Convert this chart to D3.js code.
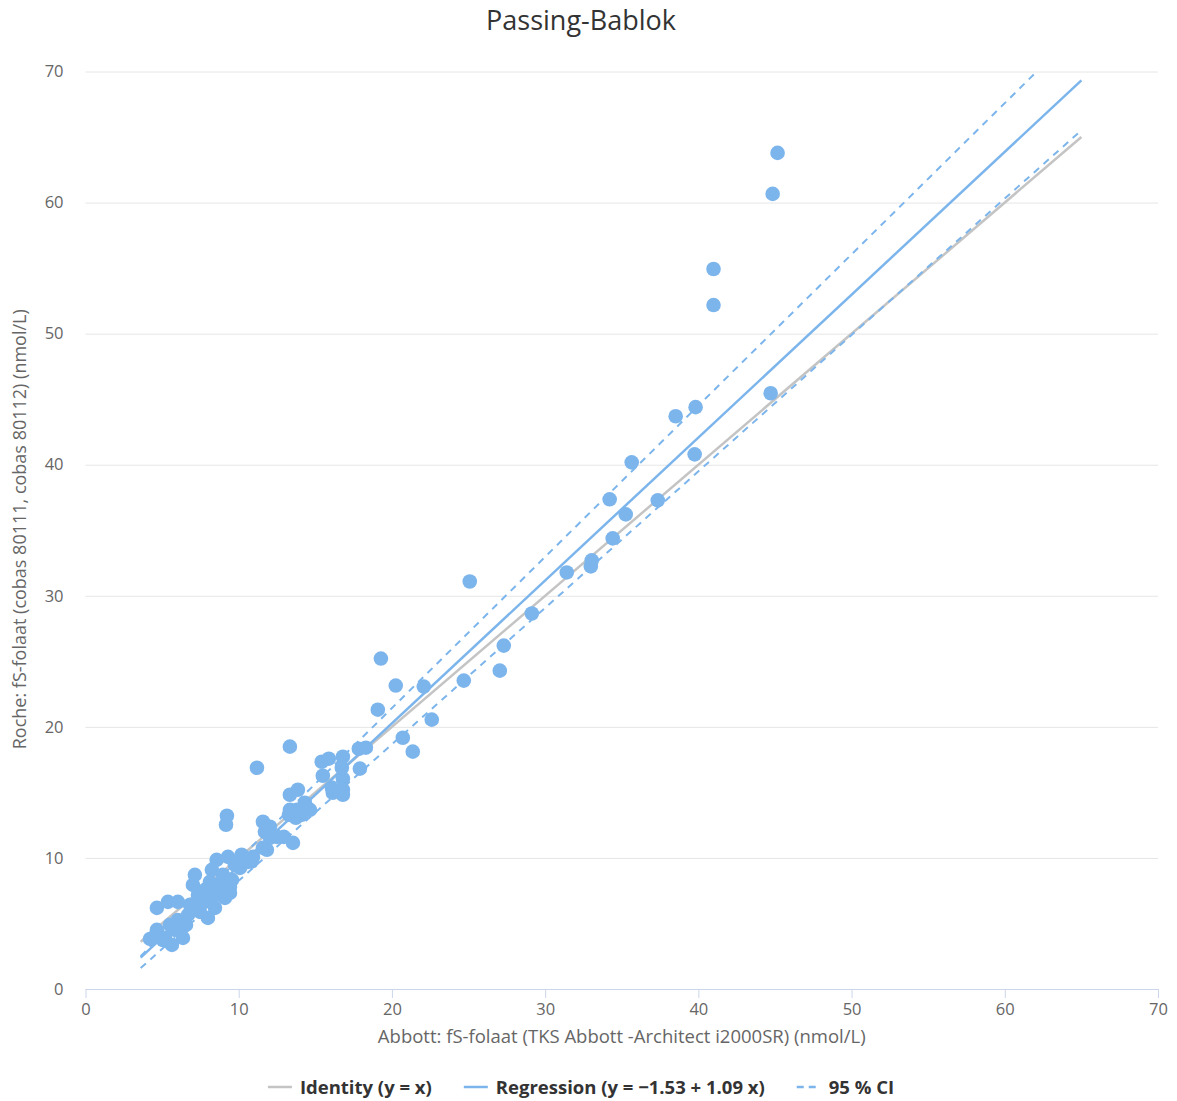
<!DOCTYPE html>
<html>
<head>
<meta charset="utf-8">
<script src="https://cdn.jsdelivr.net/npm/d3@7"></script>
<style>
  html, body { margin: 0; padding: 0; background: #fff; }
  svg { display: block; font-family: "Open Sans", "DejaVu Sans", sans-serif; }
</style>
</head>
<body>
<svg id="chart" width="1177" height="1101"></svg>
<script>
// ---- data ----
const titleText = "Passing-Bablok";
const xTitle = "Abbott: fS-folaat (TKS Abbott -Architect i2000SR) (nmol/L)";
const yTitle = "Roche: fS-folaat (cobas 80111, cobas 80112) (nmol/L)";
const xTicks = [0, 10, 20, 30, 40, 50, 60, 70];
const yTicks = [0, 10, 20, 30, 40, 50, 60, 70];
const legendLabels = ["Identity (y = x)", "Regression (y = \u22121.53 + 1.09 x)", "95 % CI"];

// measurement pairs [Abbott, Roche]
const pointsX = [
  4.21, 4.66, 4.40, 4.66, 5.06, 5.19, 5.38, 5.64, 5.84, 6.03, 6.03, 6.36, 6.36, 6.56, 6.69,
  7.01, 7.14, 7.47, 7.66, 7.99, 8.12, 8.32, 8.45, 8.56, 8.97, 9.10, 9.30, 9.43, 9.75, 10.19,
  10.84, 7.80, 8.64, 8.77, 9.10, 8.25, 7.34, 6.82, 9.56, 9.43, 5.51,
  9.23, 9.17, 10.08, 10.93, 10.60, 11.58, 12.04, 11.71, 12.04, 11.58, 11.84, 12.49, 11.19,
  12.95, 13.54, 13.34, 13.34, 13.86, 14.32, 14.65, 13.80, 13.34, 14.12, 13.73, 13.28,
  15.42, 15.88, 15.49, 16.80, 16.73, 16.80, 16.08, 16.80, 16.80, 16.14, 17.84, 18.30, 17.91,
  19.08, 19.28, 20.25, 20.71, 21.36, 22.08, 22.60, 24.69, 25.08, 27.04, 27.30, 29.13,
  31.41, 32.98, 33.04, 34.41, 35.26, 34.21, 37.35, 35.65, 39.76, 38.52, 39.82, 44.72,
  40.99, 40.99, 44.85, 45.17
];
const pointsY = [
  3.82, 4.51, 3.90, 6.19, 3.74, 3.90, 6.65, 3.36, 4.51, 6.65, 5.27, 4.74, 3.90, 4.89, 5.65,
  7.94, 8.71, 5.88, 6.57, 5.42, 8.17, 7.03, 6.19, 9.85, 8.71, 6.95, 10.08, 7.79, 9.47, 10.24,
  9.73, 7.56, 7.94, 7.41, 8.33, 9.09, 7.18, 6.42, 8.33, 7.33, 4.89,
  13.22, 12.53, 9.24, 10.08, 9.70, 12.76, 12.38, 11.99, 11.54, 10.77, 10.62, 11.61, 16.88,
  11.61, 11.15, 18.49, 14.82, 15.20, 14.21, 13.67, 13.67, 13.67, 13.29, 13.06, 13.29,
  17.34, 17.57, 16.27, 17.72, 16.88, 16.04, 15.36, 15.20, 14.82, 14.97, 18.33, 18.41, 16.81,
  21.31, 25.21, 23.15, 19.17, 18.11, 23.07, 20.55, 23.53, 31.09, 24.29, 26.20, 28.65,
  31.78, 32.24, 32.70, 34.38, 36.21, 37.36, 37.28, 40.18, 40.79, 43.70, 44.39, 45.45,
  52.18, 54.93, 60.66, 63.79
];

// line end points (x range of fitted lines)
const lineXRange = [3.6, 65];
const identityCoef = [0, 1];
const regressionCoef = [-1.53, 1.09];
const ciLowerCoef = [-2.15, 1.041];
const ciUpperCoef = [-1.65, 1.154];

// ---- chart ----
const svg = d3.select("#chart");
const plot = { left: 85.5, right: 1158, top: 71.5, bottom: 989 };

const x = d3.scaleLinear().domain([0, 70]).range([plot.left, plot.right]);
const y = d3.scaleLinear().domain([0, 70]).range([plot.bottom, plot.top]);

const blue = "#7cb5ec";
const gray = "#c4c4c4";
const textColor = "#666666";

// title
svg.append("text")
  .attr("x", 581).attr("y", 30)
  .attr("text-anchor", "middle")
  .attr("font-size", 27)
  .attr("fill", "#333333")
  .text(titleText);

// gridlines
svg.append("g")
  .selectAll("line")
  .data(yTicks.filter(d => d > 0))
  .join("line")
  .attr("x1", plot.left).attr("x2", plot.right)
  .attr("y1", d => y(d) + 0.5).attr("y2", d => y(d) + 0.5)
  .attr("stroke", "#e6e6e6").attr("stroke-width", 1);

// y axis (labels only)
const yAxis = d3.axisLeft(y).tickValues(yTicks).tickSize(0).tickPadding(0);
const gy = svg.append("g").attr("transform", `translate(${plot.left - 22},0)`).call(yAxis);
gy.select(".domain").remove();
gy.selectAll("text").attr("font-size", 16.5).attr("fill", textColor)
  .attr("font-family", "\"Open Sans\", sans-serif").attr("dy", "0.32em");

// x axis
const xAxis = d3.axisBottom(x).tickValues(xTicks).tickSize(9).tickPadding(5);
const gx = svg.append("g").attr("transform", `translate(0,${plot.bottom})`).call(xAxis);
gx.select(".domain").attr("stroke", "#ccd6eb").attr("d", `M${plot.left},0.5H${plot.right}`);
gx.selectAll(".tick line").attr("stroke", "#ccd6eb");
gx.selectAll("text").attr("font-size", 16.5).attr("fill", textColor)
  .attr("font-family", "\"Open Sans\", sans-serif");

// axis titles
svg.append("text")
  .attr("x", (plot.left + plot.right) / 2).attr("y", 1043)
  .attr("text-anchor", "middle").attr("font-size", 18.5).attr("fill", textColor)
  .text(xTitle);
svg.append("text")
  .attr("transform", `translate(26,${(plot.top + plot.bottom) / 2 - 1}) rotate(-90)`)
  .attr("text-anchor", "middle").attr("font-size", 18).attr("fill", textColor)
  .text(yTitle);

// clip for lines
svg.append("clipPath").attr("id", "plotclip")
  .append("rect").attr("x", plot.left).attr("y", plot.top)
  .attr("width", plot.right - plot.left).attr("height", plot.bottom - plot.top);

const lineGen = d3.line().x(d => x(d[0])).y(d => y(d[1]));
function lineData(c) { return lineXRange.map(v => [v, c[0] + c[1] * v]); }

const lines = svg.append("g").attr("clip-path", "url(#plotclip)");
lines.append("path").attr("d", lineGen(lineData(identityCoef)))
  .attr("stroke", gray).attr("stroke-width", 2.5).attr("fill", "none");
lines.append("path").attr("d", lineGen(lineData(ciLowerCoef)))
  .attr("stroke", blue).attr("stroke-width", 2).attr("stroke-dasharray", "7,6").attr("fill", "none");
lines.append("path").attr("d", lineGen(lineData(ciUpperCoef)))
  .attr("stroke", blue).attr("stroke-width", 2).attr("stroke-dasharray", "7,6").attr("fill", "none");
lines.append("path").attr("d", lineGen(lineData(regressionCoef)))
  .attr("stroke", blue).attr("stroke-width", 2.5).attr("fill", "none");

// points
const pts = pointsX.map((v, i) => [v, pointsY[i]]);
svg.append("g").selectAll("circle").data(pts).join("circle")
  .attr("cx", d => x(d[0])).attr("cy", d => y(d[1])).attr("r", 7.3)
  .attr("fill", blue);

// legend
const legend = svg.append("g");
const styles = [
  { color: gray, dash: null },
  { color: blue, dash: null },
  { color: blue, dash: "7,5" }
];
let cx = 0;
legendLabels.forEach((lab, i) => {
  const g = legend.append("g");
  g.append("line").attr("x1", 0).attr("x2", 24).attr("y1", 0).attr("y2", 0)
    .attr("stroke", styles[i].color).attr("stroke-width", 2.5)
    .attr("stroke-dasharray", styles[i].dash);
  const t = g.append("text").attr("x", 32).attr("y", 6.5)
    .attr("font-size", 18.5).attr("font-weight", "bold").attr("fill", "#333333")
    .text(lab);
  const w = 32 + t.node().getComputedTextLength();
  g.attr("transform", `translate(${cx},0)`);
  cx += w + 32;
});
const totalW = cx - 32;
legend.attr("transform", `translate(${581 - totalW / 2},1087)`);
</script>
</body>
</html>
